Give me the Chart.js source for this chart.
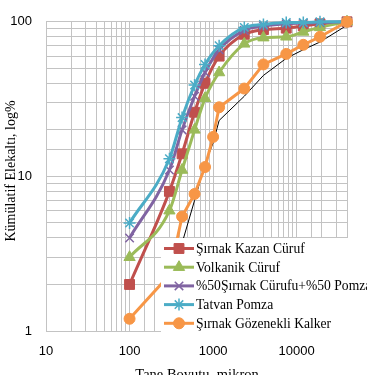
<!DOCTYPE html>
<html>
<head>
<meta charset="utf-8">
<script src="https://cdn.jsdelivr.net/npm/chart.js@4.4.0/dist/chart.umd.min.js"></script>
<style>
  html, body { margin: 0; padding: 0; background: #fff; overflow: hidden; }
</style>
</head>
<body>
<canvas id="gradationChart" width="367" height="375"></canvas>
<script>
// Sieve sizes (micron) and cumulative passing (%)
const sizes      = [100, 300, 425, 600, 800, 1000, 1180, 2360, 4000, 7500, 12000, 19000, 40000];
const kazan      = [2,   8,   14,  26,  40,  null, 60,   83,   89,   91,   94,    97,    100];
const volkanik   = [3,   6,   11,  20,  32,  null, 47,   72,   79,   80,   86,    92,    100];
const karisim    = [4,   11,  20,  33,  47,  null, 66,   88,   94,   97,   98,    99,    100];
const tatvan     = [5,   13,  24,  39,  53,  null, 70,   92,   96,   99,   99,    100,   100];
const kalker     = [1.2, 2.3, 5.5, 7.7, 11.5, 18,  28,   37,   53,   62,   71,    80,    100];
const sinir      = [null, 2.0, 3.7, 7,  12,  16.5, 23,   33,   45,   58,   66,    74,    95];

const xTicks = [10, 100, 1000, 10000];
const yTicks = [1, 10, 100];

const seriesNames = [
    'Şırnak Kazan Cüruf',
    'Volkanik Cüruf',
    '%50Şırnak Cürufu+%50 Pomza',
    'Tatvan Pomza',
    'Şırnak Gözenekli Kalker'
];

function toPoints(values) {
    return sizes.map((s, i) => ({ x: s, y: values[i] })).filter(p => p.y !== null);
}

function makeSeries(label, values, color, style, radius, order, smooth) {
    return {
        label: label,
        data: toPoints(values),
        borderColor: color,
        backgroundColor: color,
        borderWidth: 3,
        pointStyle: style,
        pointRadius: radius,
        pointBorderWidth: (style === 'crossRot' || style === 'star') ? 1.5 : 1,
        pointBackgroundColor: color,
        pointBorderColor: color,
        showLine: true,
        cubicInterpolationMode: smooth ? 'monotone' : 'default',
        tension: 0,
        clip: false,
        order: order
    };
}

// legend drawn inside the plot, on a white box
const innerLegend = {
    id: 'innerLegend',
    afterDraw(chart) {
        const ctx = chart.ctx;
        ctx.save();
        ctx.fillStyle = '#ffffff';
        ctx.fillRect(161, 238, 206, 94);
        ctx.font = '13.6px "Liberation Serif", "Times New Roman", serif';
        ctx.textBaseline = 'middle';
        let row = 0;
        chart.data.datasets.forEach(ds => {
            if (!seriesNames.includes(ds.label)) return;
            const y = 248.5 + row * 18.7;
            ctx.strokeStyle = ds.borderColor;
            ctx.lineWidth = 3;
            ctx.beginPath();
            ctx.moveTo(164, y);
            ctx.lineTo(194, y);
            ctx.stroke();
            ctx.fillStyle = ds.borderColor;
            ctx.lineWidth = ds.pointBorderWidth;
            Chart.helpers.drawPoint(ctx, {
                pointStyle: ds.pointStyle,
                radius: ds.pointRadius,
                borderWidth: ds.pointBorderWidth,
                rotation: 0
            }, 179, y);
            ctx.fillStyle = '#000';
            ctx.textAlign = 'left';
            ctx.fillText(ds.label, 196, y + 1);
            row++;
        });
        ctx.restore();
    }
};

// axis titles
const axisTitles = {
    id: 'axisTitles',
    afterDraw(chart) {
        const ctx = chart.ctx;
        ctx.save();
        ctx.fillStyle = '#000';
        ctx.textAlign = 'center';
        ctx.textBaseline = 'alphabetic';
        ctx.font = '14.5px "Liberation Serif", "Times New Roman", serif';
        ctx.fillText('Tane Boyutu, mikron', 197, 379);
        ctx.font = '14px "Liberation Serif", "Times New Roman", serif';
        ctx.translate(15, 171);
        ctx.rotate(-Math.PI / 2);
        ctx.fillText('Kümülatif Elekaltı, log%', 0, 0);
        ctx.restore();
    }
};

const gridColor = '#c3c3c3';
const tickFont = { family: '"Liberation Sans", Arial, sans-serif', size: 13 };

new Chart(document.getElementById('gradationChart'), {
    type: 'scatter',
    data: {
        datasets: [
            makeSeries(seriesNames[0], kazan, '#C0504D', 'rect', 7, 5, true),
            makeSeries(seriesNames[1], volkanik, '#9BBB59', 'triangle', 6.5, 4, true),
            makeSeries(seriesNames[2], karisim, '#8064A2', 'crossRot', 6, 3, true),
            makeSeries(seriesNames[3], tatvan, '#4BACC6', 'star', 6, 2, true),
            makeSeries(seriesNames[4], kalker, '#F79646', 'circle', 5.5, 1, false),
            {
                label: 'Sınır',
                data: toPoints(sinir),
                borderColor: '#000',
                borderWidth: 1,
                pointRadius: 0,
                showLine: true,
                clip: false,
                order: 6
            }
        ]
    },
    options: {
        responsive: false,
        animation: false,
        layout: { padding: { top: 9, right: 20, left: 0, bottom: 0 } },
        plugins: {
            legend: { display: false },
            tooltip: { enabled: false }
        },
        scales: {
            x: {
                type: 'logarithmic',
                min: 10,
                max: 40000,
                afterFit: scale => { scale.height = 44; },
                grid: { color: gridColor, drawTicks: false },
                border: { color: gridColor },
                ticks: {
                    autoSkip: false,
                    maxRotation: 0,
                    padding: 13,
                    color: '#000',
                    font: tickFont,
                    callback: v => xTicks.includes(v) ? String(v) : ''
                }
            },
            y: {
                type: 'logarithmic',
                min: 1,
                max: 100,
                afterFit: scale => { scale.width = 46; },
                grid: { color: gridColor, drawTicks: false },
                border: { color: gridColor },
                ticks: {
                    autoSkip: false,
                    padding: 14,
                    color: '#000',
                    font: tickFont,
                    callback: v => yTicks.includes(v) ? String(v) : ''
                }
            }
        }
    },
    plugins: [innerLegend, axisTitles]
});
</script>
</body>
</html>
